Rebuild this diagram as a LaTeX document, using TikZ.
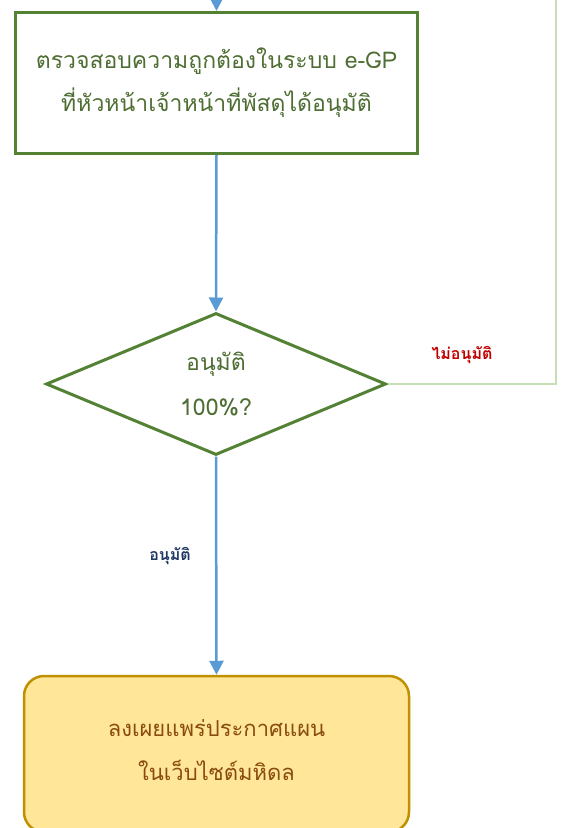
\documentclass[tikz,border=0pt]{standalone}
\usepackage{fontspec}
\newfontfamily\thaifont[Script=Thai]{Loma}
\usetikzlibrary{shapes.geometric,arrows.meta}
\definecolor{procgreen}{HTML}{548235}
\definecolor{proctext}{HTML}{4E6E33}
\definecolor{flowblue}{HTML}{5B9BD5}
\definecolor{loopgreen}{HTML}{C5E0B4}
\definecolor{endfill}{HTML}{FFE699}
\definecolor{enddraw}{HTML}{BF9000}
\definecolor{endtext}{HTML}{8A4B0F}
\definecolor{nored}{HTML}{C00000}
\definecolor{yesblue}{HTML}{203864}
\tikzset{
  procbox/.style={draw=procgreen, line width=3pt, fill=white, rectangle,
    inner sep=0pt, align=center, text=proctext,
    font=\thaifont\fontsize{23}{43}\selectfont},
  decbox/.style={draw=procgreen, line width=3pt, fill=white, diamond,
    inner sep=0pt, align=center, text=proctext,
    font=\thaifont\fontsize{23}{45}\selectfont},
  endbox/.style={draw=enddraw, line width=2.5pt, fill=endfill, rectangle,
    rounded corners=20pt, inner sep=0pt},
  endtextstyle/.style={inner sep=0pt, align=center, text=endtext,
    font=\thaifont\fontsize{22}{44}\selectfont},
  flow/.style={draw=flowblue, line width=2.5pt,
    -{Triangle[length=14pt,width=14pt]}},
  loopline/.style={draw=loopgreen, line width=2.5pt},
  edgelabel/.style={font=\thaifont\bfseries\fontsize{16}{18}\selectfont, inner sep=0pt}
}
\begin{document}
\begin{tikzpicture}[x=1pt,y=-1pt]
\useasboundingbox (0,0) rectangle (565,828);
\clip (0,0) rectangle (565,828);

% free ends of the connectors that run off the top edge
\coordinate (looptop) at (556,-30);
\coordinate (entry) at (216.5,-30);

\node[procbox, minimum width=402pt, minimum height=141pt] (check) at (216.5,83)
  {ตรวจสอบความถูกต้องในระบบ e-GP\\ที่หัวหน้าเจ้าหน้าที่พัสดุได้อนุมัติ};

\node[decbox, minimum width=340pt, minimum height=142pt] (dec) at (216,384)
  {อนุมัติ\\100\%?};

\node[endbox, minimum width=385pt, minimum height=156pt] (publish) at (216.5,754) {};
\node[endtextstyle] (publishtext) at (216.5,750)
  {ลงเผยแพร่ประกาศแผน\\ในเว็บไซต์มหิดล};

\draw[loopline] (dec.east) -| (looptop);
\draw[flow] (entry) -- (check.north);
\draw[flow] (check.south) -- (dec.north);
\draw[flow] (dec.south) -- (publish.north);

\node[edgelabel, text=nored] (nolabel) at (462,355) {ไม่อนุมัติ};
\node[edgelabel, text=yesblue] (yeslabel) at (170,556) {อนุมัติ};
\end{tikzpicture}
\end{document}
